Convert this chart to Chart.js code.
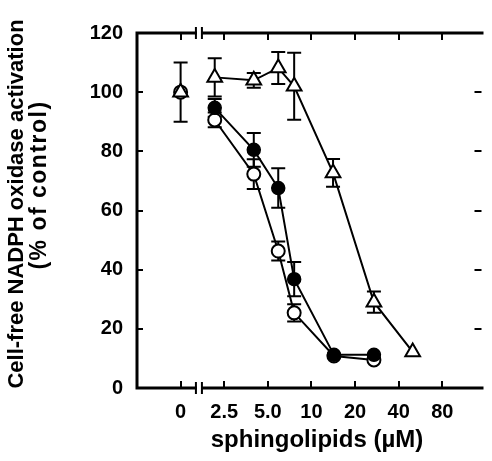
<!DOCTYPE html>
<html>
<head>
<meta charset="utf-8">
<script src="https://cdn.jsdelivr.net/npm/chart.js@4.4.0/dist/chart.umd.min.js"></script>
<style>
  html, body { margin: 0; padding: 0; background: #fff; }
  #wrap { width: 492px; height: 461px; }
</style>
</head>
<body>
<div id="wrap"><canvas id="c" width="492" height="461"></canvas></div>
<script>
/* ── values (concentration in µM, % of control) ── */
const xTickValues = [0, 2.5, 5, 10, 20, 40, 80];
const xTickLabels = ['0', '2.5', '5.0', '10', '20', '40', '80'];

const openConc   = [0, 2.15, 4, 5.9, 7.6, 14.3, 27];
const openVal    = [100, 90.6, 72.3, 46.3, 25.4, 10.8, 9.5];
const openErr    = [10, 2.5, 5, 3.2, 2.9, 0, 0];

const filledConc = [2.15, 4, 5.9, 7.6, 14.3, 27];
const filledVal  = [94.7, 80.5, 67.6, 36.8, 11.2, 11.2];
const filledErr  = [3, 5.7, 6.7, 5.8, 0, 0];

const triConc    = [0, 2.15, 4, 5.9, 7.6, 14.1, 27, 50];
const triVal     = [100, 105, 104, 108.2, 102, 72.7, 29, 12.2];
const triErr     = [0, 6.5, 2.5, 5.4, 11.3, 4.7, 3.6, 0];

const xTitle  = 'sphingolipids (\u00b5M)';
const yTitle1 = 'Cell-free NADPH oxidase activation';
const yTitle2 = '(% of control)';

/* ── log2 axis with a break: 0 sits one doubling left of 2.5 ── */
function pos(c) { return c === 0 ? -1 : Math.log2(c / 2.5); }
function pts(xs, ys) { return xs.map((c, i) => ({ x: pos(c), y: ys[i] })); }

const FONT = '"Liberation Sans", Arial, sans-serif';
const errSets = [triErr, filledErr, openErr];

/* ── error bars, drawn under the markers ── */
const errorBars = {
  id: 'errorBars',
  beforeDatasetsDraw(chart) {
    const { ctx, scales: { x, y } } = chart;
    ctx.save();
    ctx.strokeStyle = '#000';
    ctx.lineWidth = 2;
    chart.data.datasets.forEach((ds, di) => {
      errSets[di].forEach((e, i) => {
        if (!e) return;
        const p   = ds.data[i];
        const px  = x.getPixelForValue(p.x);
        const top = y.getPixelForValue(p.y + e);
        const bot = y.getPixelForValue(p.y - e);
        ctx.beginPath();
        ctx.moveTo(px, top); ctx.lineTo(px, bot);
        ctx.moveTo(px - 7, top); ctx.lineTo(px + 7, top);
        ctx.moveTo(px - 7, bot); ctx.lineTo(px + 7, bot);
        ctx.stroke();
      });
    });
    ctx.restore();
  }
};

/* ── box frame, inward ticks, axis break ── */
const frame = {
  id: 'frame',
  beforeDatasetsDraw(chart) {
    const { ctx, chartArea: a, scales: { x, y } } = chart;
    ctx.save();
    ctx.strokeStyle = '#000';
    ctx.lineWidth = 3;
    ctx.beginPath();
    ctx.moveTo(a.right + 2, a.top);
    ctx.lineTo(a.left, a.top);
    ctx.lineTo(a.left, a.bottom);
    ctx.lineTo(a.right + 2, a.bottom);
    ctx.stroke();

    ctx.lineWidth = 2;
    ctx.beginPath();
    x.ticks.forEach(t => {
      const px = Math.round(x.getPixelForValue(t.value));
      ctx.moveTo(px, a.top); ctx.lineTo(px, a.top + 7);
      ctx.moveTo(px, a.bottom); ctx.lineTo(px, a.bottom - 7);
    });
    y.ticks.forEach(t => {
      const py = Math.round(y.getPixelForValue(t.value));
      ctx.moveTo(a.left, py); ctx.lineTo(a.left + 6, py);
      ctx.moveTo(a.right, py); ctx.lineTo(a.right - 7, py);
    });
    ctx.stroke();

    // break marks between 0 and 2.5
    const bx = x.getPixelForValue(-0.58);
    ctx.fillStyle = '#fff';
    [a.top, a.bottom].forEach(yy => {
      ctx.fillRect(bx - 2, yy - 3, 5, 6);
      ctx.beginPath();
      ctx.moveTo(bx - 3, yy - 6); ctx.lineTo(bx - 3, yy + 6);
      ctx.moveTo(bx + 3, yy - 6); ctx.lineTo(bx + 3, yy + 6);
      ctx.stroke();
    });
    ctx.restore();
  }
};

/* ── axis titles ── */
const titles = {
  id: 'titles',
  afterDraw(chart) {
    const { ctx } = chart;
    ctx.save();
    ctx.fillStyle = '#000';
    ctx.textAlign = 'center';
    ctx.textBaseline = 'middle';
    ctx.font = 'bold 24px ' + FONT;
    ctx.fillText(xTitle, 317, 440);

    ctx.translate(17, 204);
    ctx.rotate(-Math.PI / 2);
    ctx.font = 'bold 22px ' + FONT;
    ctx.fillText(yTitle1, 0, 0);
    ctx.restore();

    ctx.save();
    ctx.fillStyle = '#000';
    ctx.textAlign = 'center';
    ctx.textBaseline = 'middle';
    ctx.translate(40, 185);
    ctx.rotate(-Math.PI / 2);
    ctx.font = 'bold 23px ' + FONT;
    ctx.letterSpacing = '1.5px';
    ctx.fillText(yTitle2, 0, 0);
    ctx.restore();
  }
};

const lineSeg = {
  borderColor: c => c.p0.parsed.x < -0.5 ? 'rgba(0,0,0,0)' : '#000'
};

new Chart(document.getElementById('c'), {
  type: 'line',
  data: {
    datasets: [
      {
        label: 'triangle',
        data: pts(triConc, triVal),
        borderColor: '#000',
        borderWidth: 2,
        pointStyle: 'triangle',
        pointRadius: 8.5,
        pointBorderWidth: 2,
        pointBackgroundColor: '#fff',
        pointBorderColor: '#000',
        segment: lineSeg,
        order: 1,
      },
      {
        label: 'filled',
        data: pts(filledConc, filledVal),
        borderColor: '#000',
        borderWidth: 2,
        pointStyle: 'circle',
        pointRadius: 6.5,
        pointBorderWidth: 1.5,
        pointBackgroundColor: '#000',
        pointBorderColor: '#000',
        order: 2,
      },
      {
        label: 'open',
        data: pts(openConc, openVal),
        borderColor: '#000',
        borderWidth: 2,
        pointStyle: 'circle',
        pointRadius: 6.5,
        pointBorderWidth: 2,
        pointBackgroundColor: '#fff',
        pointBorderColor: '#000',
        segment: lineSeg,
        order: 3,
      }
    ]
  },
  options: {
    responsive: false,
    animation: false,
    events: [],
    layout: { padding: { top: 33, right: 0, left: 0, bottom: 0 } },
    plugins: { legend: { display: false }, tooltip: { enabled: false } },
    elements: { line: { tension: 0 } },
    scales: {
      x: {
        type: 'linear',
        min: -2,
        max: 5.9,
        afterBuildTicks: s => { s.ticks = xTickValues.map(v => ({ value: pos(v) })); },
        afterFit: s => { s.height = 73; },
        grid: { display: false, drawTicks: false },
        border: { display: false },
        ticks: {
          color: '#000',
          padding: 12,
          maxRotation: 0,
          autoSkip: false,
          font: { family: FONT, size: 20, weight: 'bold' },
          callback: (v, i) => xTickLabels[i],
        }
      },
      y: {
        min: 0,
        max: 120,
        afterFit: s => { s.width = 137; },
        grid: { display: false, drawTicks: false },
        border: { display: false },
        ticks: {
          color: '#000',
          stepSize: 20,
          padding: 14,
          font: { family: FONT, size: 20, weight: 'bold' },
        }
      }
    }
  },
  plugins: [frame, errorBars, titles]
});
</script>
</body>
</html>
